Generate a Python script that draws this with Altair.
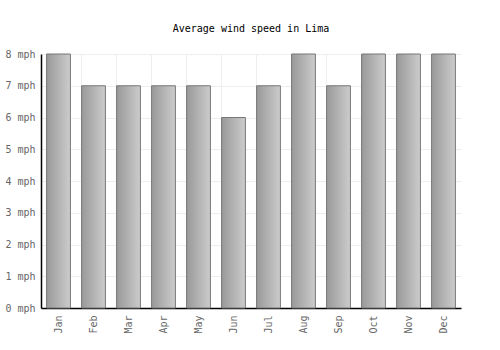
import altair as alt
import pandas as pd

months = ["Jan", "Feb", "Mar", "Apr", "May", "Jun", "Jul", "Aug", "Sep", "Oct", "Nov", "Dec"]
speeds = [8, 7, 7, 7, 7, 6, 7, 8, 7, 8, 8, 8]

df = pd.DataFrame({"month": months, "speed": speeds})

grad = alt.Gradient(
    gradient="linear",
    x1=0, x2=1, y1=0, y2=0,
    stops=[alt.GradientStop(color="#999999", offset=0), alt.GradientStop(color="#cccccc", offset=1)],
)

chart = alt.Chart(df).mark_bar(color=grad, stroke="#777777", strokeWidth=1).encode(
    x=alt.X("month:N", sort=months, title=None,
            scale=alt.Scale(paddingInner=0.32, paddingOuter=0.16),
            axis=alt.Axis(labelAngle=-90, grid=True, gridColor="#eeeeee", ticks=False,
                          domainColor="#000000", domainWidth=1.5, labelColor="#666666",
                          labelFont="DejaVu Sans Mono", labelFontSize=10, labelPadding=7,
                          bandPosition=0)),
    y=alt.Y("speed:Q", title=None,
            scale=alt.Scale(domain=[0, 8], nice=False),
            axis=alt.Axis(values=list(range(9)), labelExpr="datum.value + ' mph'",
                          grid=True, gridColor="#eeeeee", ticks=False,
                          domainColor="#000000", domainWidth=1.5, labelColor="#666666",
                          labelFont="DejaVu Sans Mono", labelFontSize=10, labelPadding=6)),
).properties(
    width=420, height=254,
    title=alt.TitleParams("Average wind speed in Lima", font="DejaVu Sans Mono", fontSize=10,
                          fontWeight="normal", color="#000000", anchor="middle", offset=15),
    autosize=alt.AutoSizeParams(type="none"),
    padding={"left": 41, "top": 54, "right": 39, "bottom": 42},
).configure_view(stroke=None)

chart.save("out.html", embed_options={"renderer": "svg", "actions": False})
